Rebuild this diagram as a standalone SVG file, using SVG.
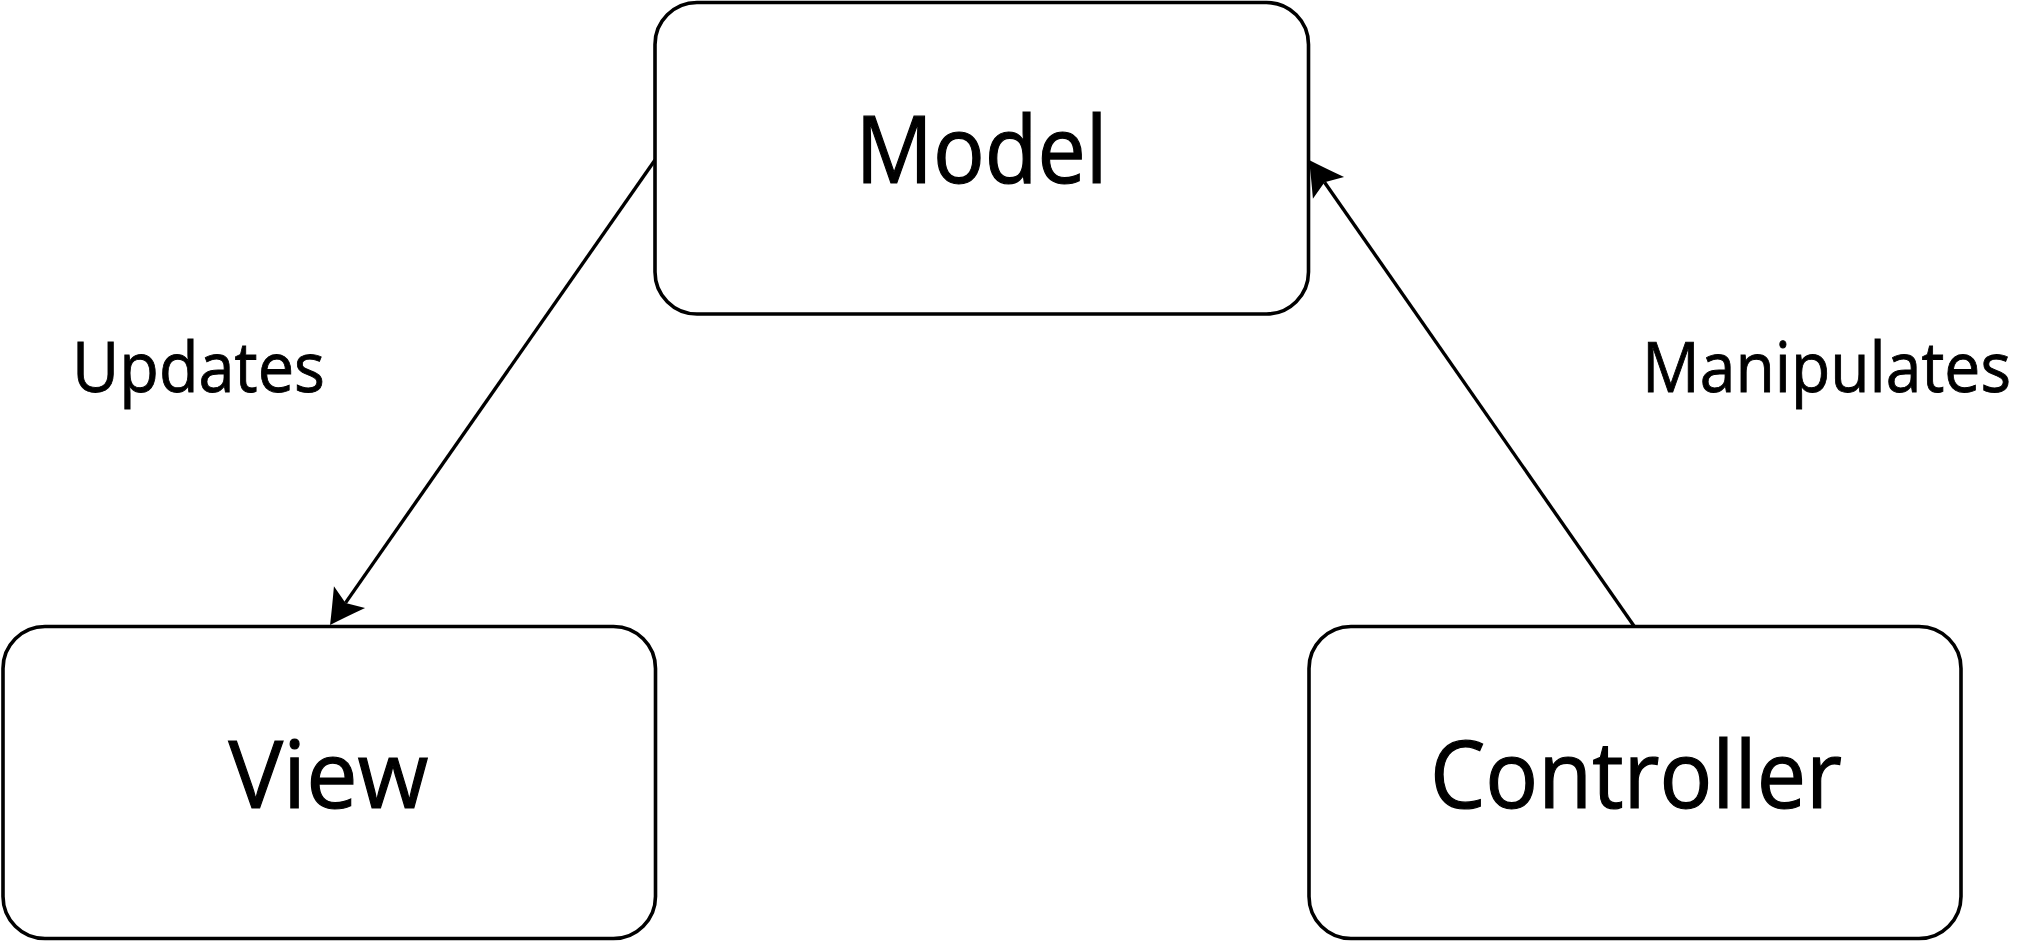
<svg xmlns="http://www.w3.org/2000/svg" width="2020" height="942" viewBox="0 0 2020 942">
  <style>
    .box { fill: #ffffff; stroke: #000000; stroke-width: 3.6; }
    .title { font-family: "Open Sans", "Noto Sans", "Liberation Sans", sans-serif; font-size: 93px; fill: #000000; stroke: #000000; stroke-width: 1.2; text-anchor: middle; }
    .label { font-family: "Open Sans", "Noto Sans", "Liberation Sans", sans-serif; font-size: 70px; fill: #000000; stroke: #000000; stroke-width: 0.9; }
    .link { fill: none; stroke: #000000; stroke-width: 3.4; marker-end: url(#arrow); }
  </style>
  <defs>
    <!-- concave filled arrowhead; reference point is the notch where the line ends -->
    <marker id="arrow" markerUnits="userSpaceOnUse" orient="auto" refX="0" refY="0" markerWidth="44" markerHeight="44" overflow="visible">
      <path d="M27,0 Q12,-8 -7,-19 L0,0 L-7,19 Q12,8 27,0 Z" fill="#000000"/>
    </marker>
  </defs>
  <rect width="2020" height="942" fill="#ffffff"/>

  <g id="connectors">
    <line class="link" x1="655" y1="160" x2="345.5" y2="602.9"/>
    <line class="link" x1="1634" y1="626" x2="1324.5" y2="182.2"/>
    <text class="label" x="72" y="392" textLength="253" lengthAdjust="spacingAndGlyphs">Updates</text>
    <text class="label" x="1642" y="392" textLength="369" lengthAdjust="spacingAndGlyphs">Manipulates</text>
  </g>

  <g id="model">
    <rect class="box" x="655" y="2.5" width="653.5" height="311.5" rx="42" ry="42"/>
    <text class="title" x="981.5" y="183" textLength="252" lengthAdjust="spacingAndGlyphs">Model</text>
  </g>

  <g id="view">
    <rect class="box" x="3" y="626.5" width="652.5" height="312" rx="42" ry="42"/>
    <text class="title" x="328.5" y="808" textLength="200" lengthAdjust="spacingAndGlyphs">View</text>
  </g>

  <g id="controller">
    <rect class="box" x="1309" y="626.5" width="652" height="312" rx="42" ry="42"/>
    <text class="title" x="1636" y="808" textLength="412" lengthAdjust="spacingAndGlyphs">Controller</text>
  </g>
</svg>
